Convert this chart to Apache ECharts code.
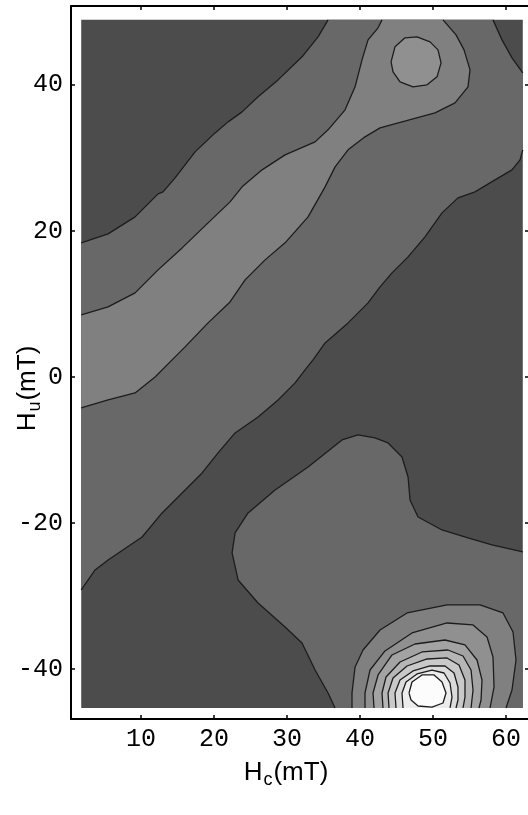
<!DOCTYPE html>
<html><head><meta charset="utf-8">
<script src="https://cdn.jsdelivr.net/npm/echarts@6/dist/echarts.min.js"></script>
<style>html,body{margin:0;padding:0;background:#fff}#c{width:528px;height:815px}</style>
</head><body><div id="c"></div><script>
// tick values
const xTicks = [10, 20, 30, 40, 50, 60];
const yTicks = [-40, -20, 0, 20, 40];
// extent of the measured FORC field (mT)
const hcRange = [1.8, 62.3];
const huRange = [-45.34, 48.9];
// contour level shades, lowest to highest density
const levelGrays = ['#4c4c4c', '#686868', '#808080', '#909090', '#a3a3a3', '#b6b6b6', '#c9c9c9', '#dbdbdb', '#ececec', '#fcfcfc'];

// contour lines, [Hc, Hu] in mT
const lineA = [[1.8,18.36],[5.48,19.59],[9.18,21.92],[12.33,25.07],[13.01,25.34],[14.66,27.26],[17.40,30.82],[20.14,33.42],[21.92,34.93],[23.84,36.30],[26.03,38.36],[28.77,40.68],[32.05,43.84],[34.25,46.58],[35.62,48.9]];
const lineB = [[1.8,8.49],[5.48,9.59],[9.18,11.51],[12.33,14.66],[15.62,17.67],[19.18,21.10],[22.19,23.97],[23.84,26.03],[26.58,28.36],[29.73,30.41],[33.84,32.19],[35.62,33.84],[37.95,36.58],[39.32,39.73],[40.27,43.42],[41.10,46.16],[42.47,47.81],[43.01,48.9]];
const lineC = [[1.8,-4.25],[5.48,-3.15],[9.18,-2.19],[11.92,0],[14.25,2.33],[16.03,4.11],[19.18,7.40],[22.19,10.27],[24.25,13.29],[26.99,16.03],[29.73,18.36],[32.88,21.92],[35.21,26.03],[36.58,28.77],[38.36,31.10],[40.68,32.88],[42.74,34.11],[45.75,34.93],[50.27,36.16],[53.01,37.53],[54.79,39.73],[55.07,42.05],[54.25,44.79],[53.15,46.85],[51.37,48.9]];
const lineD = [[1.8,-29.18],[3.70,-26.44],[5.48,-25.07],[10.14,-21.92],[12.88,-18.63],[15.62,-15.89],[18.36,-13.15],[20.55,-10.41],[22.88,-7.67],[26.03,-5.48],[28.77,-3.15],[31.10,-0.82],[32.47,0.96],[33.56,2.33],[35.21,4.66],[38.36,7.40],[41.10,10.14],[42.74,12.33],[44.38,14.25],[46.58,16.44],[48.90,19.18],[51.23,22.47],[53.42,24.52],[55.75,25.34],[58.49,26.99],[60.82,28.36],[61.92,29.73],[62.3,31.10]];
const lineE = [[58.22,48.9],[59.45,46.16],[60.82,43.70],[62.3,41.64]];
const lineF = [[62.3,-23.97],[58.08,-23.01],[54.79,-22.05],[51.23,-20.96],[47.95,-19.18],[46.85,-16.85],[46.58,-13.70],[45.75,-10.96],[43.84,-9.04],[42.05,-8.36],[39.73,-7.95],[37.53,-8.63],[32.88,-12.33],[28.36,-15.48],[24.66,-18.63],[22.88,-21.37],[22.47,-24.11],[23.29,-27.81],[26.03,-30.96],[29.73,-34.25],[32.05,-36.44],[33.84,-40.14],[35.62,-43.29],[36.58,-45.34]];
const peakTop = [[44.25,43.15],[44.79,45.21],[46.16,46.44],[47.81,46.58],[49.59,45.89],[50.68,44.79],[51.10,43.01],[50.55,41.10],[49.18,40.0],[47.26,39.73],[45.48,40.41],[44.52,41.78]];
const ring1 = [[38.90,-45.34],[38.90,-43.29],[39.32,-39.73],[40.41,-37.40],[42.74,-34.66],[46.44,-32.33],[51.92,-31.23],[56.44,-31.23],[59.59,-32.33],[60.96,-34.93],[61.37,-38.77],[60.82,-42.88],[60.0,-45.34]];
const ring2 = [[40.68,-45.34],[40.68,-43.29],[41.37,-40.14],[43.42,-37.53],[47.12,-35.07],[51.92,-33.70],[55.48,-33.97],[57.40,-35.62],[58.22,-38.36],[58.36,-42.47],[57.81,-45.34]];
const ring3 = [[41.92,-45.34],[41.78,-43.29],[42.47,-40.82],[44.38,-38.08],[47.53,-36.58],[51.64,-36.03],[54.38,-36.71],[56.03,-38.77],[56.71,-41.51],[56.58,-44.25],[56.30,-45.34]];
const ring4 = [[43.15,-45.34],[43.01,-43.29],[43.56,-41.10],[45.48,-39.04],[48.49,-37.67],[52.05,-37.40],[54.11,-38.22],[55.21,-40.14],[55.48,-42.88],[55.21,-45.34]];
const ring5 = [[43.97,-45.34],[43.84,-43.29],[44.52,-41.23],[46.44,-39.59],[49.18,-38.63],[51.92,-38.49],[53.56,-39.45],[54.38,-41.51],[54.38,-43.84],[54.11,-45.34]];
const ring6 = [[44.93,-45.34],[44.79,-43.29],[45.48,-41.51],[47.26,-40.27],[49.59,-39.59],[51.64,-39.59],[52.88,-40.55],[53.42,-42.47],[53.42,-44.25],[53.15,-45.34]];
const ring7 = [[45.89,-45.34],[45.75,-43.29],[46.30,-41.78],[47.81,-40.68],[49.86,-40.14],[51.51,-40.55],[52.33,-41.92],[52.60,-43.84],[52.33,-45.34]];
const ring8 = [[46.71,-43.29],[47.12,-41.78],[48.49,-40.82],[50.14,-40.82],[51.23,-41.78],[51.78,-43.29],[51.37,-44.66],[49.86,-45.21],[47.95,-45.07],[46.99,-44.25]];

const [X0, X1] = hcRange, [Y0, Y1] = huRange;
const regions = [
  { level: 0, pts: [[X0,Y0],[X1,Y0],[X1,Y1],[X0,Y1]] },
  { level: 1, pts: lineA.concat(lineE, lineD.slice().reverse()) },
  { level: 1, pts: lineF.concat([[X1,Y0]]) },
  { level: 2, pts: lineB.concat(lineC.slice().reverse()) },
  { level: 2, pts: ring1 },
  { level: 3, pts: peakTop },
  { level: 3, pts: ring2 },
  { level: 4, pts: ring3 },
  { level: 5, pts: ring4 },
  { level: 6, pts: ring5 },
  { level: 7, pts: ring6 },
  { level: 8, pts: ring7 },
  { level: 9, pts: ring8 }
];
const contourLines = [lineA, lineB, lineC, lineD, lineE, lineF, peakTop.concat([peakTop[0]]), ring1, ring2, ring3, ring4, ring5, ring6, ring7, ring8.concat([ring8[0]])];

const chart = echarts.init(document.getElementById('c'), null, { renderer: 'canvas' });
const monoLabel = { fontFamily: 'Liberation Mono', fontSize: 25, color: '#000' };
const rich = {
  n: { fontFamily: 'Liberation Sans', fontSize: 26, color: '#000' },
  s: { fontFamily: 'Liberation Sans', fontSize: 18, color: '#000', padding: [14, 1, 0, 1] }
};
const frameLine = { show: true, onZero: false, lineStyle: { color: '#000', width: 2 } };
const xMin = 0.4, xMax = 63.15, yMin = -46.85, yMax = 50.8;

const series = [{
  type: 'custom',
  silent: true,
  z: 1,
  data: regions.map((r, i) => [r.pts[0][0], r.pts[0][1], i]),
  renderItem: function (params, api) {
    const r = regions[params.dataIndex];
    return {
      type: 'polygon',
      shape: { points: r.pts.map(p => api.coord(p)) },
      style: { fill: levelGrays[r.level], stroke: null }
    };
  }
}];
contourLines.forEach(l => series.push({
  type: 'line', data: l, showSymbol: false, symbol: 'none', silent: true, z: 5,
  lineStyle: { color: '#1c1c1c', width: 1.3 }
}));

chart.setOption({
  animation: false,
  backgroundColor: '#fff',
  grid: { left: 71, top: 6, right: -1, bottom: 96, containLabel: false, outerBoundsMode: 'none' },
  xAxis: [{
    type: 'value', position: 'bottom', min: xMin, max: xMax,
    splitLine: { show: false }, axisLine: frameLine,
    axisTick: { show: true, inside: true, length: 4, customValues: xTicks, lineStyle: { color: '#000', width: 1.5 } },
    axisLabel: Object.assign({ customValues: xTicks, margin: 8 }, monoLabel),
    name: '{n|H}{s|c}{n|(mT)}', nameLocation: 'middle', nameGap: 38, nameMoveOverlap: false,
    nameTextStyle: { rich: rich, padding: [0, 28, 0, 0] }
  }, {
    type: 'value', position: 'top', min: xMin, max: xMax,
    splitLine: { show: false }, axisLine: frameLine,
    axisTick: { show: true, inside: true, length: 4, customValues: xTicks, lineStyle: { color: '#000', width: 1.5 } },
    axisLabel: { show: false }
  }],
  yAxis: [{
    type: 'value', position: 'left', min: yMin, max: yMax,
    splitLine: { show: false }, axisLine: frameLine,
    axisTick: { show: true, inside: true, length: 4, customValues: yTicks, lineStyle: { color: '#000', width: 1.5 } },
    axisLabel: Object.assign({ customValues: yTicks, margin: 8 }, monoLabel),
    name: '{n|H}{s|u}{n|(mT)}', nameLocation: 'middle', nameGap: 27, nameRotate: 90, nameMoveOverlap: false,
    nameTextStyle: { rich: rich, padding: [0, 52, 0, 0] }
  }, {
    type: 'value', position: 'right', min: yMin, max: yMax,
    splitLine: { show: false }, axisLine: frameLine,
    axisTick: { show: true, inside: true, length: 4, customValues: yTicks, lineStyle: { color: '#000', width: 1.5 } },
    axisLabel: { show: false }
  }],
  series: series
});
</script></body></html>
